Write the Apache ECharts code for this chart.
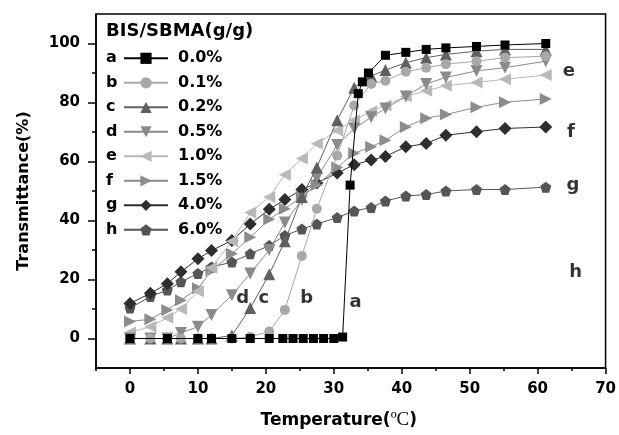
<!DOCTYPE html>
<html><head><meta charset="utf-8">
<script src="https://cdn.jsdelivr.net/npm/echarts@6/dist/echarts.min.js"></script>
<style>html,body{margin:0;padding:0;background:#fff}#c{width:619px;height:435px}</style>
</head><body><div id="c"></div>
<script>
// ---- data ----
const temps = [0, 3, 5.5, 7.5, 10, 12, 15, 17.7, 20.5, 22.8, 25.3, 27.5, 30.5, 33, 35.5, 37.6, 40.6, 43.6, 46.5, 51, 55.2, 61.2];
const tempsA = [0, 5.5, 10, 12, 15, 17.7, 20.5, 22.5, 24, 25.5, 27, 28.5, 30, 31.3, 32.4, 33.6, 34.2, 35.1, 37.6, 40.6, 43.6, 46.5, 51, 55.2, 61.2];
const seriesA = [0,0,0,0,0,0,0,0,0,0,0,0,0, 0.5, 52, 83, 87, 90, 96, 97, 98, 98.5, 99, 99.5, 100];
const seriesB = [0,0,0,0,0,0,0,0.5,2.4,9.7,28,44,62,79,86.3,87.4,90.4,91.8,93,94,95.2,95.7];
const seriesC = [0,0,0,0,0,0,1,10.3,21.8,33,48,58,74,85,89,91,93.5,95.2,96.3,97.4,98,98];
const seriesD = [0,0,0,1.9,4,8,14.7,22,30,39.3,47,54.4,65.6,71.2,75,78,82,86.3,88.5,90.7,91.8,94];
const seriesE = [2,4,7,10,16,24,33,42.7,48,55.5,61,66,70.5,74,77,79,82,84,85.7,86.8,87.9,89.3];
const seriesF = [5.8,6.5,9.7,13,17,23,28.7,34.3,40.4,44,48,52,58,62.8,65,67.2,71.7,74.7,75.9,78.4,80.1,81.2];
const seriesG = [11.9,15.3,18.6,22.6,27,29.8,33.2,38.8,43.8,47.1,50.5,52.7,56.1,58.9,60.5,61.7,65,66.1,68.9,70.1,71.2,71.7];
const seriesH = [10.3,14.2,16.4,19.2,22,24.2,25.9,28.7,31.5,34.9,37.1,38.8,41,43.2,44.4,46.6,48.3,48.8,50,50.5,50.5,51.3];
const legendNames = ['0.0%', '0.1%', '0.2%', '0.5%', '1.0%', '1.5%', '4.0%', '6.0%'];
const letters = ['a', 'b', 'c', 'd', 'e', 'f', 'g', 'h'];
const annoX = [33.2, 26, 19.7, 16.6, 64.6, 64.9, 65.2, 65.6];
const annoY = [12.4, 13.5, 13.5, 13.5, 90.5, 70, 52, 22.6];
const xTicks = [0, 10, 20, 30, 40, 50, 60, 70];
const xMinor = [-5, 5, 15, 25, 35, 45, 55, 65];
const yTicks = [0, 20, 40, 60, 80, 100];
const yMinor = [10, 30, 50, 70, 90];
const legendTitle = 'BIS/SBMA(g/g)';

// ---- styles ----
const FONT = 'DejaVu Sans';
const pent = 'path://M0,-10 L9.51,-3.09 L5.88,8.09 L-5.88,8.09 L-9.51,-3.09 Z';
const styles = [
  {color:'#000000', symbol:'rect', size:9, rot:0},
  {color:'#a8a8a8', symbol:'circle', size:10, rot:0},
  {color:'#606060', symbol:'triangle', size:12, rot:0},
  {color:'#8a8a8a', symbol:'triangle', size:12, rot:180},
  {color:'#b8b8b8', symbol:'triangle', size:12, rot:90},
  {color:'#8c8c8c', symbol:'triangle', size:12, rot:-90},
  {color:'#2e2e2e', symbol:'diamond', size:13, rot:0},
  {color:'#555555', symbol:pent, size:11, rot:0}
];
const xs = [tempsA, temps, temps, temps, temps, temps, temps, temps];
const ys = [seriesA, seriesB, seriesC, seriesD, seriesE, seriesF, seriesG, seriesH];

const series = ys.map((vals, i) => ({
  name: legendNames[i], type: 'line',
  xAxisIndex: 0, yAxisIndex: 0,
  data: vals.map((v, k) => [xs[i][k], v]),
  symbol: styles[i].symbol, symbolSize: styles[i].size, symbolRotate: styles[i].rot,
  itemStyle: {color: styles[i].color},
  lineStyle: {color: styles[i].color, width: 1},
  z: 10 - i,
  animation: false
}));
series.push({
  type: 'scatter', name: 'labels', symbolSize: 0, silent: true,
  data: letters.map((l, i) => ({value: [annoX[i], annoY[i]], name: l})),
  itemStyle: {color: '#000'},
  label: {show: true, position: 'inside', formatter: p => p.name,
          fontFamily: FONT, fontWeight: 'bold', fontSize: 18, color: '#000'},
  animation: false
});

const rowTop = 48.3, rowGap = 24.5;
const chart = echarts.init(document.getElementById('c'), null, {renderer: 'canvas'});
chart.setOption({
  animation: false,
  backgroundColor: '#fff',
  grid: {left: 96, right: 9, top: 14, bottom: 63, show: true, borderColor: '#000', borderWidth: 1.5, backgroundColor: 'transparent'},
  title: {text: legendTitle, left: 106, top: 22, padding: 0,
          textStyle: {fontFamily: FONT, fontWeight: 'bold', fontSize: 18, color: '#000'}},
  legend: {
    orient: 'vertical', left: 123, top: rowTop, padding: 0, itemWidth: 44, itemHeight: 14, itemGap: rowGap - 20,
    data: legendNames,
    textStyle: {fontFamily: FONT, fontWeight: 'bold', fontSize: 16, color: '#000', lineHeight: 20, padding: [0,0,0,5]}
  },
  graphic: letters.map((l, i) => ({
    type: 'text', x: 106, y: rowTop + 10 + i * rowGap,
    style: {text: l, font: 'bold 16px "DejaVu Sans"', fill: '#000', verticalAlign: 'middle'}
  })),
  xAxis: [
    {type: 'value', min: -5, max: 70, interval: 5, position: 'bottom',
     name: '{a|Temperature(}{b|ºC}{a|)}', nameLocation: 'middle', nameGap: 43,
     nameTextStyle: {padding: [0, 24, 0, 0], rich: {
        a: {fontFamily: FONT, fontWeight: 'bold', fontSize: 17, color: '#000'},
        b: {fontFamily: 'Liberation Serif', fontSize: 19, color: '#000'}}},
     axisLine: {show: true, onZero: false, lineStyle: {color: '#000', width: 1.5}},
     axisTick: {show: true, inside: false, length: 6, customValues: xTicks, lineStyle: {color: '#000', width: 1.5}},
     axisLabel: {show: true, customValues: xTicks, margin: 14, fontFamily: FONT, fontWeight: 'bold', fontSize: 15, color: '#000'},
     splitLine: {show: false}},
    {type: 'value', min: -5, max: 70, interval: 5, position: 'bottom',
     axisLine: {show: false, onZero: false},
     axisTick: {show: true, length: 3, customValues: xMinor, lineStyle: {color: '#000', width: 1.5}},
     axisLabel: {show: false}, splitLine: {show: false}}
  ],
  yAxis: [
    {type: 'value', min: -10, max: 110, interval: 10, position: 'left',
     name: 'Transmittance(%)', nameLocation: 'middle', nameGap: 64,
     nameTextStyle: {fontFamily: FONT, fontWeight: 'bold', fontSize: 16, color: '#000'},
     axisLine: {show: true, onZero: false, lineStyle: {color: '#000', width: 1.5}},
     axisTick: {show: true, length: 8, customValues: yTicks, lineStyle: {color: '#000', width: 1.5}},
     axisLabel: {show: true, customValues: yTicks, margin: 16, fontFamily: FONT, fontWeight: 'bold', fontSize: 15, color: '#000'},
     splitLine: {show: false}},
    {type: 'value', min: -10, max: 110, interval: 10, position: 'left',
     axisLine: {show: false, onZero: false},
     axisTick: {show: true, length: 4, customValues: yMinor, lineStyle: {color: '#000', width: 1.5}},
     axisLabel: {show: false}, splitLine: {show: false}}
  ],
  series: series
});
</script></body></html>
